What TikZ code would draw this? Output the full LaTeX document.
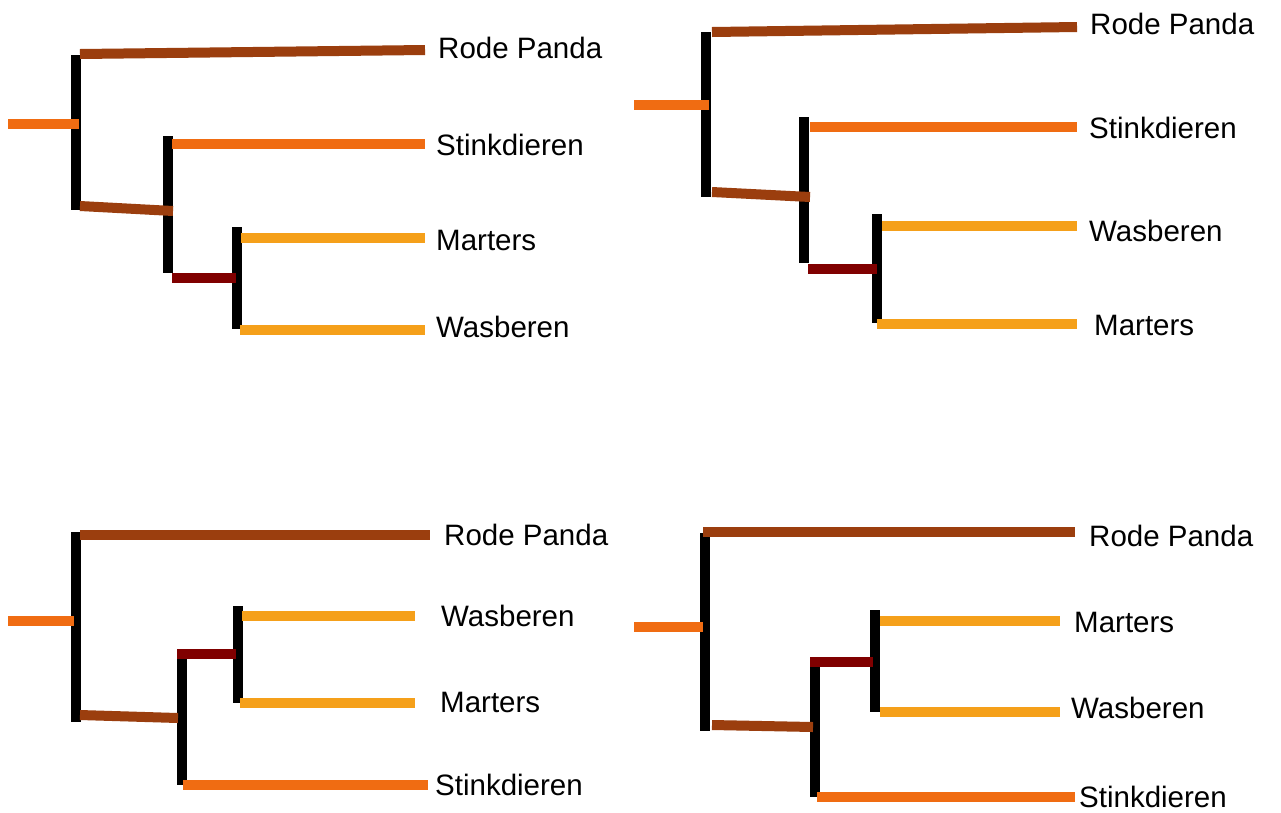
\documentclass[tikz,border=0pt]{standalone}
\usepackage{fontspec}
\setmainfont{Liberation Sans}
\definecolor{cbrown}{RGB}{155,62,14}
\definecolor{corange}{RGB}{240,108,18}
\definecolor{clight}{RGB}{245,160,26}
\definecolor{cdred}{RGB}{128,0,0}
\begin{document}
\begin{tikzpicture}[x=1pt,y=-1pt,
  vbar/.style={line width=10pt,black},
  brownbar/.style={line width=10pt,cbrown},
  orangebar/.style={line width=10pt,corange},
  lightbar/.style={line width=9.5pt,clight},
  redbar/.style={line width=10pt,cdred},
  lab/.style={anchor=base west,inner sep=0pt,font=\fontsize{29.5}{31}\selectfont}]
\useasboundingbox[fill=white] (0,0) rectangle (1281,812);
% ---------- panel 1 ----------
\coordinate (a0) at (8,124);   \coordinate (a1) at (79,124);
\coordinate (av1t) at (76,55); \coordinate (av1b) at (76,210);
\coordinate (arp0) at (80,54); \coordinate (arp1) at (425,50);
\coordinate (abr0) at (80,206); \coordinate (abr1) at (173,211);
\coordinate (av2t) at (168,136); \coordinate (av2b) at (168,273);
\coordinate (ast0) at (172,144); \coordinate (ast1) at (425,144);
\coordinate (ar0) at (172,278); \coordinate (ar1) at (236,278);
\coordinate (av3t) at (237,227); \coordinate (av3b) at (237,329);
\coordinate (ama0) at (241,238); \coordinate (ama1) at (425,238);
\coordinate (awa0) at (240,330); \coordinate (awa1) at (425,330);
\draw[vbar] (av1t) -- (av1b);
\draw[vbar] (av2t) -- (av2b);
\draw[vbar] (av3t) -- (av3b);
\draw[orangebar] (a0) -- (a1);
\draw[brownbar] (arp0) -- (arp1);
\draw[brownbar] (abr0) -- (abr1);
\draw[orangebar] (ast0) -- (ast1);
\draw[redbar] (ar0) -- (ar1);
\draw[lightbar] (ama0) -- (ama1);
\draw[lightbar] (awa0) -- (awa1);
\node[lab] (arpl) at (438,58) {Rode Panda};
\node[lab] (astl) at (436,155) {Stinkdieren};
\node[lab] (amal) at (436,250) {Marters};
\node[lab] (awal) at (436,337) {Wasberen};
% ---------- panel 2 ----------
\coordinate (b0) at (634,105);   \coordinate (b1) at (709,105);
\coordinate (bv1t) at (706,32); \coordinate (bv1b) at (706,197);
\coordinate (brp0) at (712,32); \coordinate (brp1) at (1077,27);
\coordinate (bbr0) at (712,192); \coordinate (bbr1) at (810,197);
\coordinate (bv2t) at (804,117); \coordinate (bv2b) at (804,263);
\coordinate (bst0) at (810,127); \coordinate (bst1) at (1077,127);
\coordinate (br0) at (808,269); \coordinate (br1) at (877,269);
\coordinate (bv3t) at (877,214); \coordinate (bv3b) at (877,323);
\coordinate (bwa0) at (882,226); \coordinate (bwa1) at (1077,226);
\coordinate (bma0) at (877,324); \coordinate (bma1) at (1077,324);
\draw[vbar] (bv1t) -- (bv1b);
\draw[vbar] (bv2t) -- (bv2b);
\draw[vbar] (bv3t) -- (bv3b);
\draw[orangebar] (b0) -- (b1);
\draw[brownbar] (brp0) -- (brp1);
\draw[brownbar] (bbr0) -- (bbr1);
\draw[orangebar] (bst0) -- (bst1);
\draw[redbar] (br0) -- (br1);
\draw[lightbar] (bwa0) -- (bwa1);
\draw[lightbar] (bma0) -- (bma1);
\node[lab] (brpl) at (1090,34) {Rode Panda};
\node[lab] (bstl) at (1089,138) {Stinkdieren};
\node[lab] (bwal) at (1089,241) {Wasberen};
\node[lab] (bmal) at (1094,335) {Marters};
% ---------- panel 3 ----------
\coordinate (c0) at (8,621);   \coordinate (c1) at (74,621);
\coordinate (cv1t) at (76,532); \coordinate (cv1b) at (76,722);
\coordinate (crp0) at (80,535); \coordinate (crp1) at (430,535);
\coordinate (cbr0) at (80,715); \coordinate (cbr1) at (178,718);
\coordinate (cv2t) at (182,658); \coordinate (cv2b) at (182,785);
\coordinate (cr0) at (177,654); \coordinate (cr1) at (236,654);
\coordinate (cv3t) at (238,606); \coordinate (cv3b) at (238,703);
\coordinate (cwa0) at (242,616); \coordinate (cwa1) at (415,616);
\coordinate (cma0) at (240,703); \coordinate (cma1) at (415,703);
\coordinate (cst0) at (183,785); \coordinate (cst1) at (428,785);
\draw[vbar] (cv1t) -- (cv1b);
\draw[vbar] (cv2t) -- (cv2b);
\draw[vbar] (cv3t) -- (cv3b);
\draw[orangebar] (c0) -- (c1);
\draw[brownbar] (crp0) -- (crp1);
\draw[brownbar] (cbr0) -- (cbr1);
\draw[redbar] (cr0) -- (cr1);
\draw[lightbar] (cwa0) -- (cwa1);
\draw[lightbar] (cma0) -- (cma1);
\draw[orangebar] (cst0) -- (cst1);
\node[lab] (crpl) at (444,545) {Rode Panda};
\node[lab] (cwal) at (441,626) {Wasberen};
\node[lab] (cmal) at (440,712) {Marters};
\node[lab] (cstl) at (435,795) {Stinkdieren};
% ---------- panel 4 ----------
\coordinate (d0) at (634,627);   \coordinate (d1) at (703,627);
\coordinate (dv1t) at (705,533); \coordinate (dv1b) at (705,731);
\coordinate (drp0) at (703,532); \coordinate (drp1) at (1075,532);
\coordinate (dbr0) at (712,725); \coordinate (dbr1) at (813,727);
\coordinate (dv2t) at (815,665); \coordinate (dv2b) at (815,797);
\coordinate (dr0) at (810,662); \coordinate (dr1) at (873,662);
\coordinate (dv3t) at (875,610); \coordinate (dv3b) at (875,712);
\coordinate (dma0) at (880,621); \coordinate (dma1) at (1060,621);
\coordinate (dwa0) at (880,712); \coordinate (dwa1) at (1060,712);
\coordinate (dst0) at (817,797); \coordinate (dst1) at (1075,797);
\draw[vbar] (dv1t) -- (dv1b);
\draw[vbar] (dv2t) -- (dv2b);
\draw[vbar] (dv3t) -- (dv3b);
\draw[orangebar] (d0) -- (d1);
\draw[brownbar] (drp0) -- (drp1);
\draw[brownbar] (dbr0) -- (dbr1);
\draw[redbar] (dr0) -- (dr1);
\draw[lightbar] (dma0) -- (dma1);
\draw[lightbar] (dwa0) -- (dwa1);
\draw[orangebar] (dst0) -- (dst1);
\node[lab] (drpl) at (1089,546) {Rode Panda};
\node[lab] (dmal) at (1074,632) {Marters};
\node[lab] (dwal) at (1071,718) {Wasberen};
\node[lab] (dstl) at (1079,807) {Stinkdieren};
\end{tikzpicture}
\end{document}
